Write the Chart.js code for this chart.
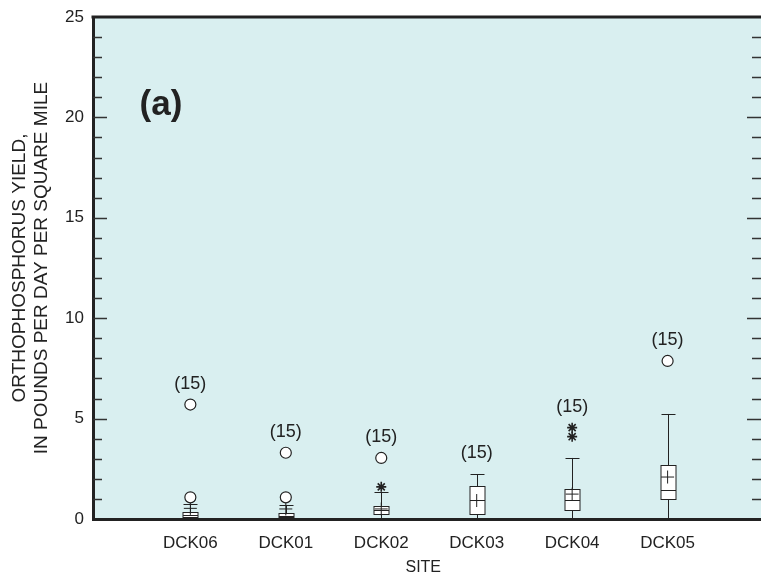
<!DOCTYPE html>
<html>
<head>
<meta charset="utf-8">
<script src="https://cdn.jsdelivr.net/npm/chart.js@4"></script>
<style>
  html, body { margin: 0; padding: 0; background: #fff; }
  #wrap { width: 761px; height: 579px; }
</style>
</head>
<body>
<div id="wrap"><canvas id="chart"></canvas></div>
<script>
// Site data (pounds per day per square mile)
const sites = ['DCK06', 'DCK01', 'DCK02', 'DCK03', 'DCK04', 'DCK05'];
const counts = [15, 15, 15, 15, 15, 15];
const whiskerLow = [0.02, 0.02, 0.05, 0.05, 0.05, 0.05];
const q1 = [0.1, 0.08, 0.25, 0.25, 0.45, 1.0];
const median = [0.2, 0.15, 0.45, 0.95, 0.95, 1.44];
const q3 = [0.33, 0.28, 0.65, 1.62, 1.5, 2.69];
const whiskerHigh = [0.75, 0.7, 1.35, 2.24, 3.04, 5.23];
const means = [0.53, 0.5, 0.5, 0.92, 1.24, 2.09];
const farOutliers = [[5.7, 1.08], [3.3, 1.08], [3.04], [], [], [7.87]];
const outsideValues = [[], [], [1.6], [], [4.55, 4.1], []];
const yTicks = [0, 5, 10, 15, 20, 25];

const BG = '#d9eff0';
const INK = '#222';
const FONT = '"Liberation Sans", Arial, sans-serif';

function pointsFrom(lists) {
    const pts = [];
    lists.forEach((vals, i) => vals.forEach(v => pts.push({ x: i + 1, y: v })));
    return pts;
}

// Box, whiskers, caps, inward ticks, frame and labels
const boxPlugin = {
    id: 'boxPlugin',
    beforeDraw(chart) {
        const { ctx, chartArea } = chart;
        ctx.save();
        ctx.fillStyle = BG;
        ctx.fillRect(chartArea.left, chartArea.top, chart.width - chartArea.left, chartArea.bottom - chartArea.top);
        ctx.restore();
    },
    beforeDatasetsDraw(chart) {
        const { ctx } = chart;
        const xs = chart.scales.x, ys = chart.scales.y;
        ctx.save();
        ctx.strokeStyle = INK;
        ctx.lineWidth = 1;
        sites.forEach((s, i) => {
            const cx = Math.round(xs.getPixelForValue(i + 1)) + 0.5;
            const half = 7.5, cap = 7;
            // whiskers
            ctx.beginPath();
            ctx.moveTo(cx, ys.getPixelForValue(whiskerHigh[i]));
            ctx.lineTo(cx, ys.getPixelForValue(q3[i]));
            ctx.moveTo(cx, ys.getPixelForValue(q1[i]));
            ctx.lineTo(cx, ys.getPixelForValue(whiskerLow[i]));
            const yc = Math.round(ys.getPixelForValue(whiskerHigh[i])) + 0.5;
            ctx.moveTo(cx - cap, yc);
            ctx.lineTo(cx + cap, yc);
            ctx.stroke();
            // box
            const yTop = Math.round(ys.getPixelForValue(q3[i])) + 0.5;
            const yBot = Math.round(ys.getPixelForValue(q1[i])) + 0.5;
            ctx.fillStyle = '#fff';
            ctx.fillRect(cx - half, yTop, half * 2, yBot - yTop);
            ctx.strokeRect(cx - half, yTop, half * 2, yBot - yTop);
            const ym = Math.round(ys.getPixelForValue(median[i])) + 0.5;
            ctx.beginPath();
            ctx.moveTo(cx - half, ym);
            ctx.lineTo(cx + half, ym);
            ctx.stroke();
        });
        ctx.restore();
    },
    afterDraw(chart) {
        const { ctx, chartArea } = chart;
        const xs = chart.scales.x, ys = chart.scales.y;
        const right = chart.width;
        ctx.save();
        // inward ticks, left and right
        ctx.strokeStyle = '#333';
        ctx.lineWidth = 1.5;
        for (let v = 1; v < 25; v++) {
            const y = Math.round(ys.getPixelForValue(v)) + 0.5;
            const len = v % 5 === 0 ? 14 : 9;
            ctx.beginPath();
            ctx.moveTo(chartArea.left, y);
            ctx.lineTo(chartArea.left + len, y);
            ctx.moveTo(right, y);
            ctx.lineTo(right - len, y);
            ctx.stroke();
        }
        // top frame, and bottom frame carried to the edge
        ctx.strokeStyle = INK;
        ctx.lineWidth = 3;
        ctx.beginPath();
        ctx.moveTo(chartArea.left - 1.5, chartArea.top);
        ctx.lineTo(right, chartArea.top);
        ctx.moveTo(chartArea.right - 2, chartArea.bottom + 0.5);
        ctx.lineTo(right, chartArea.bottom + 0.5);
        ctx.stroke();
        // sample counts
        ctx.fillStyle = INK;
        ctx.font = '18px ' + FONT;
        ctx.textAlign = 'center';
        ctx.textBaseline = 'middle';
        sites.forEach((s, i) => {
            const top = Math.max(whiskerHigh[i], ...farOutliers[i], ...outsideValues[i]);
            ctx.fillText('(' + counts[i] + ')', xs.getPixelForValue(i + 1), ys.getPixelForValue(top) - 21);
        });
        // panel letter
        ctx.font = 'bold 35px ' + FONT;
        ctx.fillText('(a)', chartArea.left + 68, chartArea.top + 88);
        ctx.restore();
    }
};

new Chart(document.getElementById('chart'), {
    type: 'scatter',
    data: {
        datasets: [
            {
                label: 'Far outliers',
                data: pointsFrom(farOutliers),
                pointStyle: 'circle',
                pointRadius: 5.5,
                backgroundColor: '#fff',
                borderColor: INK,
                borderWidth: 1.2
            },
            {
                label: 'Outside values',
                data: pointsFrom(outsideValues),
                pointStyle: 'star',
                pointRadius: 5,
                borderColor: INK,
                borderWidth: 1.6
            },
            {
                label: 'Mean',
                data: means.map((m, i) => ({ x: i + 1, y: m })),
                pointStyle: 'cross',
                pointRadius: 6.5,
                borderColor: INK,
                borderWidth: 1
            }
        ]
    },
    options: {
        responsive: true,
        maintainAspectRatio: false,
        animation: false,
        events: [],
        layout: { padding: { top: 17, right: 0, left: 0, bottom: 0 } },
        plugins: { legend: { display: false }, tooltip: { enabled: false } },
        scales: {
            x: {
                type: 'linear',
                min: -0.02,
                max: 6.9,
                afterFit: axis => { axis.height = 60; },
                afterBuildTicks: axis => { axis.ticks = sites.map((s, i) => ({ value: i + 1 })); },
                grid: { display: false },
                border: { display: true, width: 3, color: INK },
                ticks: {
                    autoSkip: false,
                    maxRotation: 0,
                    padding: 6,
                    color: INK,
                    font: { family: FONT, size: 17 },
                    callback: v => sites[Math.round(v) - 1] || ''
                },
                title: {
                    display: true,
                    text: 'SITE',
                    color: INK,
                    padding: { top: 2, bottom: 2 },
                    font: { family: FONT, size: 16 }
                }
            },
            y: {
                min: 0,
                max: 25,
                afterBuildTicks: axis => { axis.ticks = yTicks.map(v => ({ value: v })); },
                afterFit: axis => { axis.width = 93; },
                grid: { display: false },
                border: { display: true, width: 3, color: INK },
                ticks: {
                    padding: 1,
                    color: INK,
                    font: { family: FONT, size: 17 }
                },
                title: {
                    display: true,
                    text: ['ORTHOPHOSPHORUS YIELD,', 'IN POUNDS PER DAY PER SQUARE MILE'],
                    color: INK,
                    padding: { top: 9, bottom: 4 },
                    font: { family: FONT, size: 19, lineHeight: 1.16 }
                }
            }
        }
    },
    plugins: [boxPlugin]
});
</script>
</body>
</html>
